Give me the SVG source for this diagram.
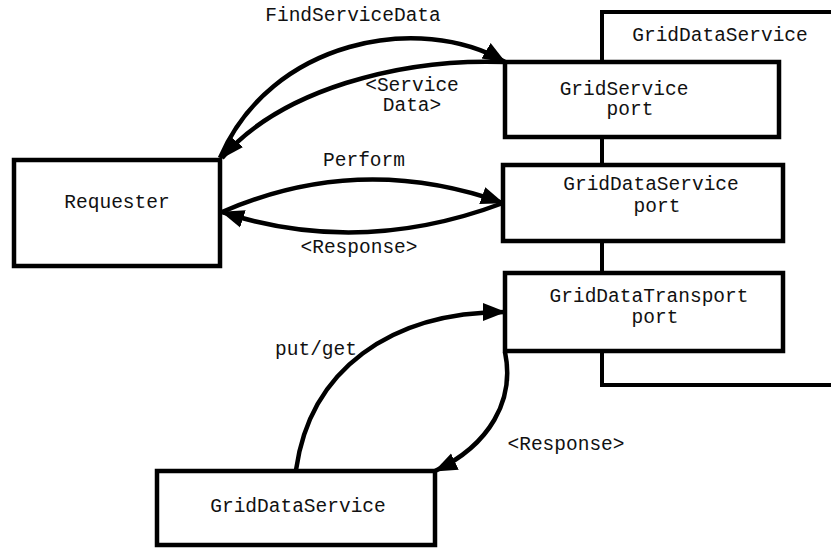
<svg xmlns="http://www.w3.org/2000/svg" width="831" height="548" viewBox="0 0 831 548">
<style>
.box{fill:#fff;stroke:#000;stroke-width:4.5}
.cont{fill:#fff;stroke:#000;stroke-width:4}
.lbl{font-family:"Liberation Mono","Courier New",monospace;font-size:19.5px;fill:#111;text-anchor:middle}
.con{fill:none;stroke:#000;stroke-width:4.5}
</style>
<defs>
<marker id="arr" markerUnits="userSpaceOnUse" markerWidth="24" markerHeight="20" viewBox="0 0 24 20" refX="22" refY="10" orient="auto">
<path d="M0,1 L23,10 L0,19 Z" fill="#000"/>
</marker>
</defs>
<rect x="0" y="0" width="831" height="548" fill="#fff"/>
<g id="container">
<rect class="cont" x="602" y="12" width="240" height="373"/>
<text class="lbl" x="720" y="41">GridDataService</text>
</g>
<g id="gridservice-port">
<rect class="box" x="505" y="62" width="274" height="75"/>
<text class="lbl" x="624" y="95">GridService</text>
<text class="lbl" x="630" y="115">port</text>
</g>
<g id="griddataservice-port">
<rect class="box" x="503" y="165" width="280" height="76"/>
<text class="lbl" x="651" y="190">GridDataService</text>
<text class="lbl" x="657" y="212">port</text>
</g>
<g id="griddatatransport-port">
<rect class="box" x="505" y="273" width="278" height="78"/>
<text class="lbl" x="649" y="302">GridDataTransport</text>
<text class="lbl" x="655" y="323">port</text>
</g>
<g id="requester">
<rect class="box" x="14" y="160" width="206" height="106"/>
<text class="lbl" x="117" y="208">Requester</text>
</g>
<g id="griddataservice-client">
<rect class="box" x="157" y="471" width="278" height="74"/>
<text class="lbl" x="298" y="512">GridDataService</text>
</g>
<g id="connectors">
<path class="con" d="M220,158 C270,40 420,12 505,62" marker-end="url(#arr)"/>
<path class="con" d="M505,62 C400,58 280,90 222,158" marker-end="url(#arr)"/>
<path class="con" d="M222,212 Q360,152 503,203" marker-end="url(#arr)"/>
<path class="con" d="M503,203 Q360,257 222,212" marker-end="url(#arr)"/>
<path class="con" d="M296,470 C310,370 390,312 505,312" marker-end="url(#arr)"/>
<path class="con" d="M505,352 C515,400 490,445 435,471" marker-end="url(#arr)"/>
<text class="lbl" x="353" y="21">FindServiceData</text>
<text class="lbl" x="412" y="91">&lt;Service</text>
<text class="lbl" x="412" y="111">Data&gt;</text>
<text class="lbl" x="364" y="166">Perform</text>
<text class="lbl" x="359" y="253">&lt;Response&gt;</text>
<text class="lbl" x="316" y="355">put/get</text>
<text class="lbl" x="566" y="450">&lt;Response&gt;</text>
</g>
</svg>
